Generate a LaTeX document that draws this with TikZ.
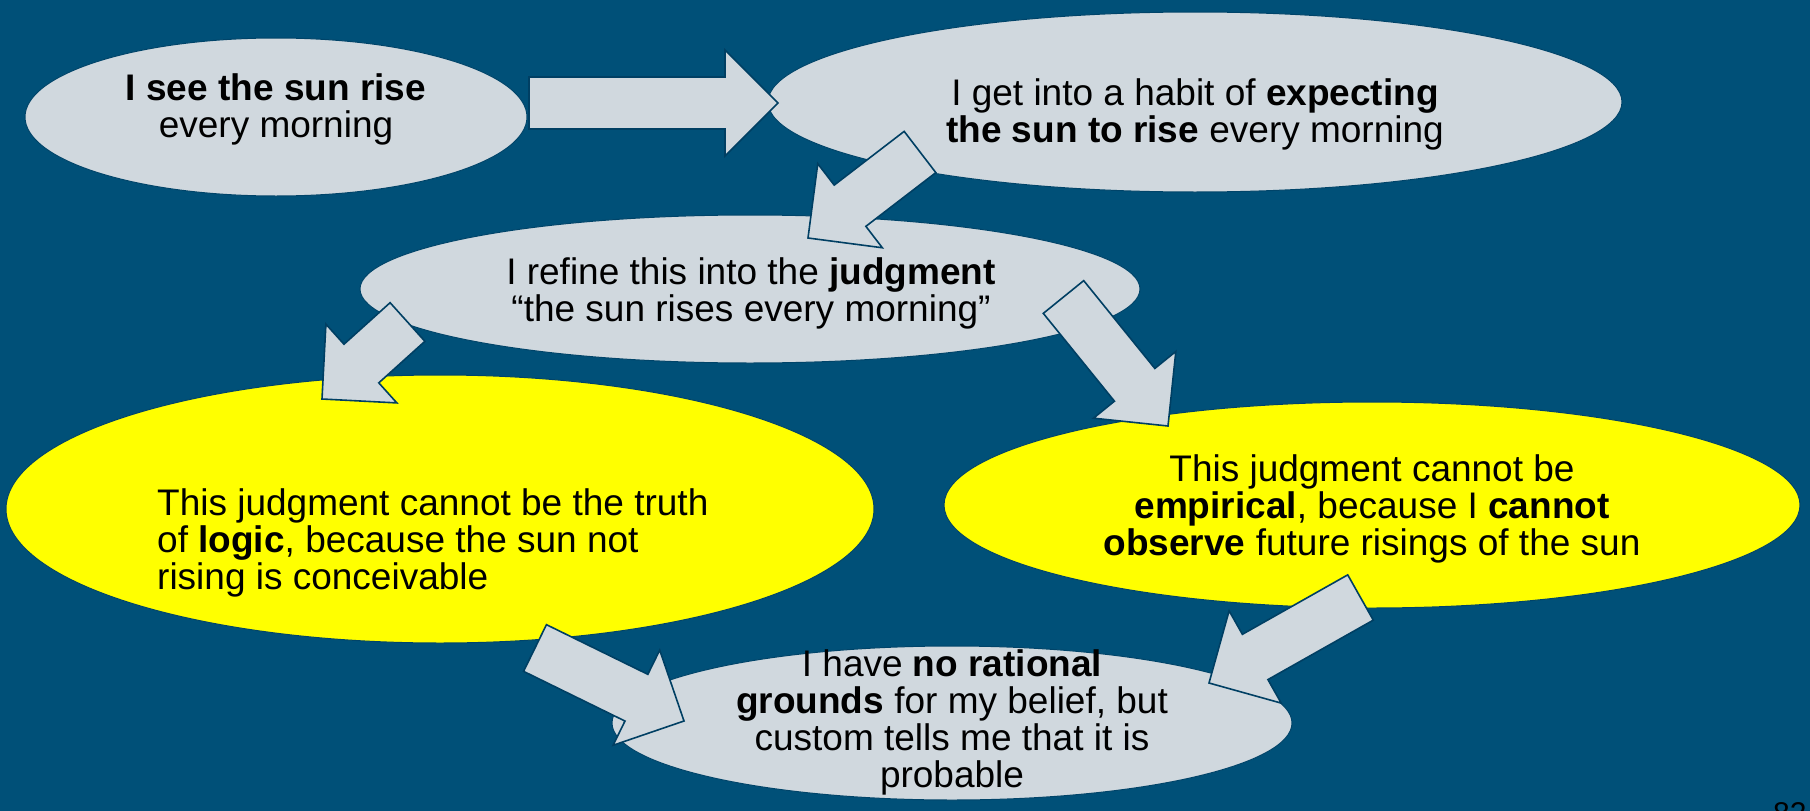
\documentclass[tikz,border=0pt]{standalone}
\usepackage{fontspec}
\setmainfont{Liberation Sans}
\usetikzlibrary{shapes.geometric,calc}
\definecolor{bgblue}{HTML}{005078}
\definecolor{edgeblue}{HTML}{003F63}
\definecolor{pale}{HTML}{D0D8DE}
\definecolor{sunyellow}{HTML}{FFFF00}
\tikzset{
  ell/.style={ellipse, inner sep=0pt, draw=edgeblue!70!bgblue, line width=1pt},
  paleell/.style={ell, fill=pale},
  yellowell/.style={ell, fill=sunyellow},
  txt/.style={font=\fontsize{37}{37}\selectfont, text=black, inner sep=0pt, align=center, anchor=base},
  blockarr/.style={fill=pale, draw=edgeblue, line width=1.6pt, line join=miter},
}
\newcommand\blockarrow[3]{%
  \path ($(#3)!53pt!(#2)$) coordinate (#1h);
  \draw[blockarr] ($(#2)!26pt!90:(#3)$) -- ($(#1h)!26pt!90:(#3)$) -- ($(#1h)!53pt!90:(#3)$) -- (#3)
    -- ($(#1h)!53pt!-90:(#3)$) -- ($(#1h)!26pt!-90:(#3)$) -- ($(#2)!26pt!-90:(#3)$) -- cycle;
}
\begin{document}
\begin{tikzpicture}[x=1pt,y=-1pt]
\useasboundingbox (0,0) rectangle (1810,811);
\fill[bgblue] (0,0) rectangle (1810,811);

% ellipses
\node[paleell, minimum width=502pt, minimum height=158pt] (e1) at (276,117) {};
\node[paleell, minimum width=854pt, minimum height=180pt] (e2) at (1195,102) {};

% arrow 1
\coordinate (a1t) at (529,103);
\coordinate (a1p) at (778,103);
\blockarrow{a1}{a1t}{a1p}

\node[paleell, minimum width=780pt, minimum height=148pt] (e3) at (750,289) {};

% arrow 2
\coordinate (a2t) at (920,152);
\coordinate (a2p) at (808,238);
\blockarrow{a2}{a2t}{a2p}

\node[yellowell, minimum width=868pt, minimum height=268pt] (e4) at (440,509) {};
\node[yellowell, minimum width=856pt, minimum height=206pt] (e5) at (1372,505) {};

% arrows 3, 4
\coordinate (a3t) at (407.5,322);
\coordinate (a3p) at (322,399);
\blockarrow{a3}{a3t}{a3p}
\coordinate (a4t) at (1063.5,297);
\coordinate (a4p) at (1168,426);
\blockarrow{a4}{a4t}{a4p}

\node[paleell, minimum width=680pt, minimum height=154pt] (e6) at (952,723) {};

% arrows 5, 6
\coordinate (a5t) at (535,648);
\coordinate (a5p) at (684,721);
\blockarrow{a5}{a5t}{a5p}
\coordinate (a6t) at (1360.5,597.5);
\coordinate (a6p) at (1209,683);
\blockarrow{a6}{a6t}{a6p}

% texts (anchor=base is the baseline of the last line)
\node[txt] (t1) at (276,137) {\textbf{I see the sun rise}\\every morning};
\node[txt] (t2) at (1195,142) {I get into a habit of \textbf{expecting}\\\textbf{the sun to rise} every morning};
\node[txt] (t3) at (751,321) {I refine this into the \textbf{judgment}\\“the sun rises every morning”};
\node[txt, align=left, anchor=base west] (t4) at (157,589) {This judgment cannot be the truth\\of \textbf{logic}, because the sun not\\rising is conceivable};
\node[txt] (t5) at (1372,555) {This judgment cannot be\\\textbf{empirical}, because I \textbf{cannot}\\\textbf{observe} future risings of the sun};
\node[txt] (t6) at (952,787) {I have \textbf{no rational}\\\textbf{grounds} for my belief, but\\custom tells me that it is\\probable};

\node[font=\fontsize{30}{34}\selectfont, text=black, inner sep=0pt, anchor=base west] (pg) at (1773,823) {82};
\end{tikzpicture}
\end{document}
